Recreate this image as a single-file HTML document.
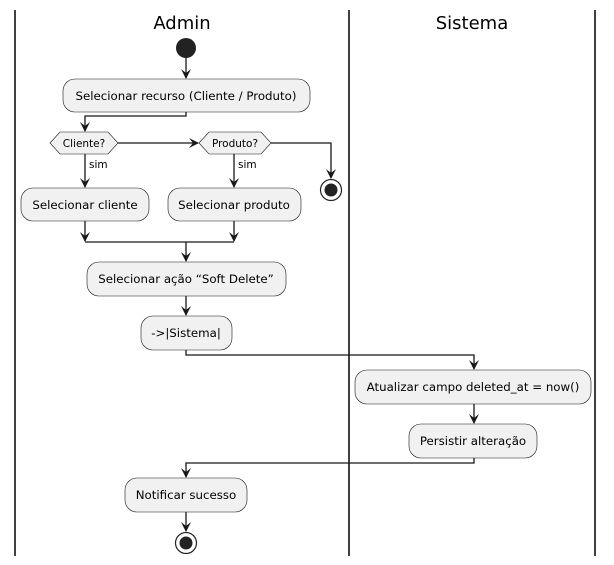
<!DOCTYPE html>
<html><head><meta charset="utf-8"><style>html,body{margin:0;padding:0;background:#fff}svg{display:block}</style></head><body>
<svg width="614" height="565" viewBox="0 0 614 565" xmlns="http://www.w3.org/2000/svg" font-family="'DejaVu Sans', 'Liberation Sans', sans-serif">
<defs><marker id="a" viewBox="0 0 10 10" refX="9" refY="5" markerWidth="10" markerHeight="10" markerUnits="userSpaceOnUse" orient="auto"><path d="M0,0 L10,5 L0,10 L4,5 Z" fill="#181818"/></marker></defs>
<g stroke="#000" stroke-width="1.5"><line x1="15" y1="10" x2="15" y2="556"/><line x1="349" y1="10" x2="349" y2="556"/><line x1="595" y1="10" x2="595" y2="556"/></g>
<text x="182" y="29" font-size="18" text-anchor="middle" fill="#000">Admin</text>
<text x="472" y="29" font-size="18" text-anchor="middle" fill="#000">Sistema</text>
<g fill="none" stroke="#181818" stroke-width="1.3">
<path d="M186,58 V78" marker-end="url(#a)"/>
<path d="M186,112 V116 H85 V131" marker-end="url(#a)"/>
<path d="M118,143 H198" marker-end="url(#a)"/>
<path d="M271,143 H331 V178" marker-end="url(#a)"/>
<path d="M85,154 V187" marker-end="url(#a)"/>
<path d="M234,154 V187" marker-end="url(#a)"/>
<path d="M85,221 V241" marker-end="url(#a)"/>
<path d="M234,221 V241" marker-end="url(#a)"/>
<path d="M85,242 H234"/>
<path d="M186,242 V261" marker-end="url(#a)"/>
<path d="M186,296 V315" marker-end="url(#a)"/>
<path d="M186,350 V355 H474 V369" marker-end="url(#a)"/>
<path d="M474,404 V423" marker-end="url(#a)"/>
<path d="M474,458 V463 H186 V477" marker-end="url(#a)"/>
<path d="M186,512 V531" marker-end="url(#a)"/>
</g>
<circle cx="186" cy="48" r="10" fill="#222"/>
<g fill="#f1f1f1" stroke="#181818" stroke-width="0.6">
<rect x="63" y="79" width="247" height="33" rx="12"/>
<polygon points="50,143 60,132 108,132 118,143 108,154 60,154"/>
<polygon points="199,143 209,132 261,132 271,143 261,154 209,154"/>
<rect x="21" y="188" width="128" height="33" rx="12"/>
<rect x="168" y="188" width="133" height="33" rx="12"/>
<rect x="87" y="262" width="199" height="34" rx="12"/>
<rect x="141" y="316" width="91" height="34" rx="12"/>
<rect x="355" y="370" width="236" height="34" rx="12"/>
<rect x="409" y="424" width="128" height="34" rx="12"/>
<rect x="125" y="478" width="122" height="34" rx="12"/>
</g>
<circle cx="331" cy="190" r="10.5" fill="none" stroke="#222" stroke-width="1.2"/><circle cx="331" cy="190" r="6.5" fill="#222"/>
<circle cx="186" cy="543" r="10.5" fill="none" stroke="#222" stroke-width="1.2"/><circle cx="186" cy="543" r="6.5" fill="#222"/>
<g font-size="11.8" fill="#000" text-anchor="middle">
<text x="186" y="100">Selecionar recurso (Cliente / Produto)</text>
<text x="85" y="209">Selecionar cliente</text>
<text x="234" y="209">Selecionar produto</text>
<text x="186" y="283">Selecionar ação “Soft Delete”</text>
<text x="186" y="337">-&gt;|Sistema|</text>
<text x="473" y="391">Atualizar campo deleted_at = now()</text>
<text x="473" y="445">Persistir alteração</text>
<text x="186" y="499">Notificar sucesso</text>
</g>
<g font-size="10.5" fill="#000">
<text x="84" y="147" text-anchor="middle">Cliente?</text>
<text x="235" y="147" text-anchor="middle">Produto?</text>
<text x="89" y="168">sim</text>
<text x="238" y="168">sim</text>
</g>
</svg>
</body></html>
